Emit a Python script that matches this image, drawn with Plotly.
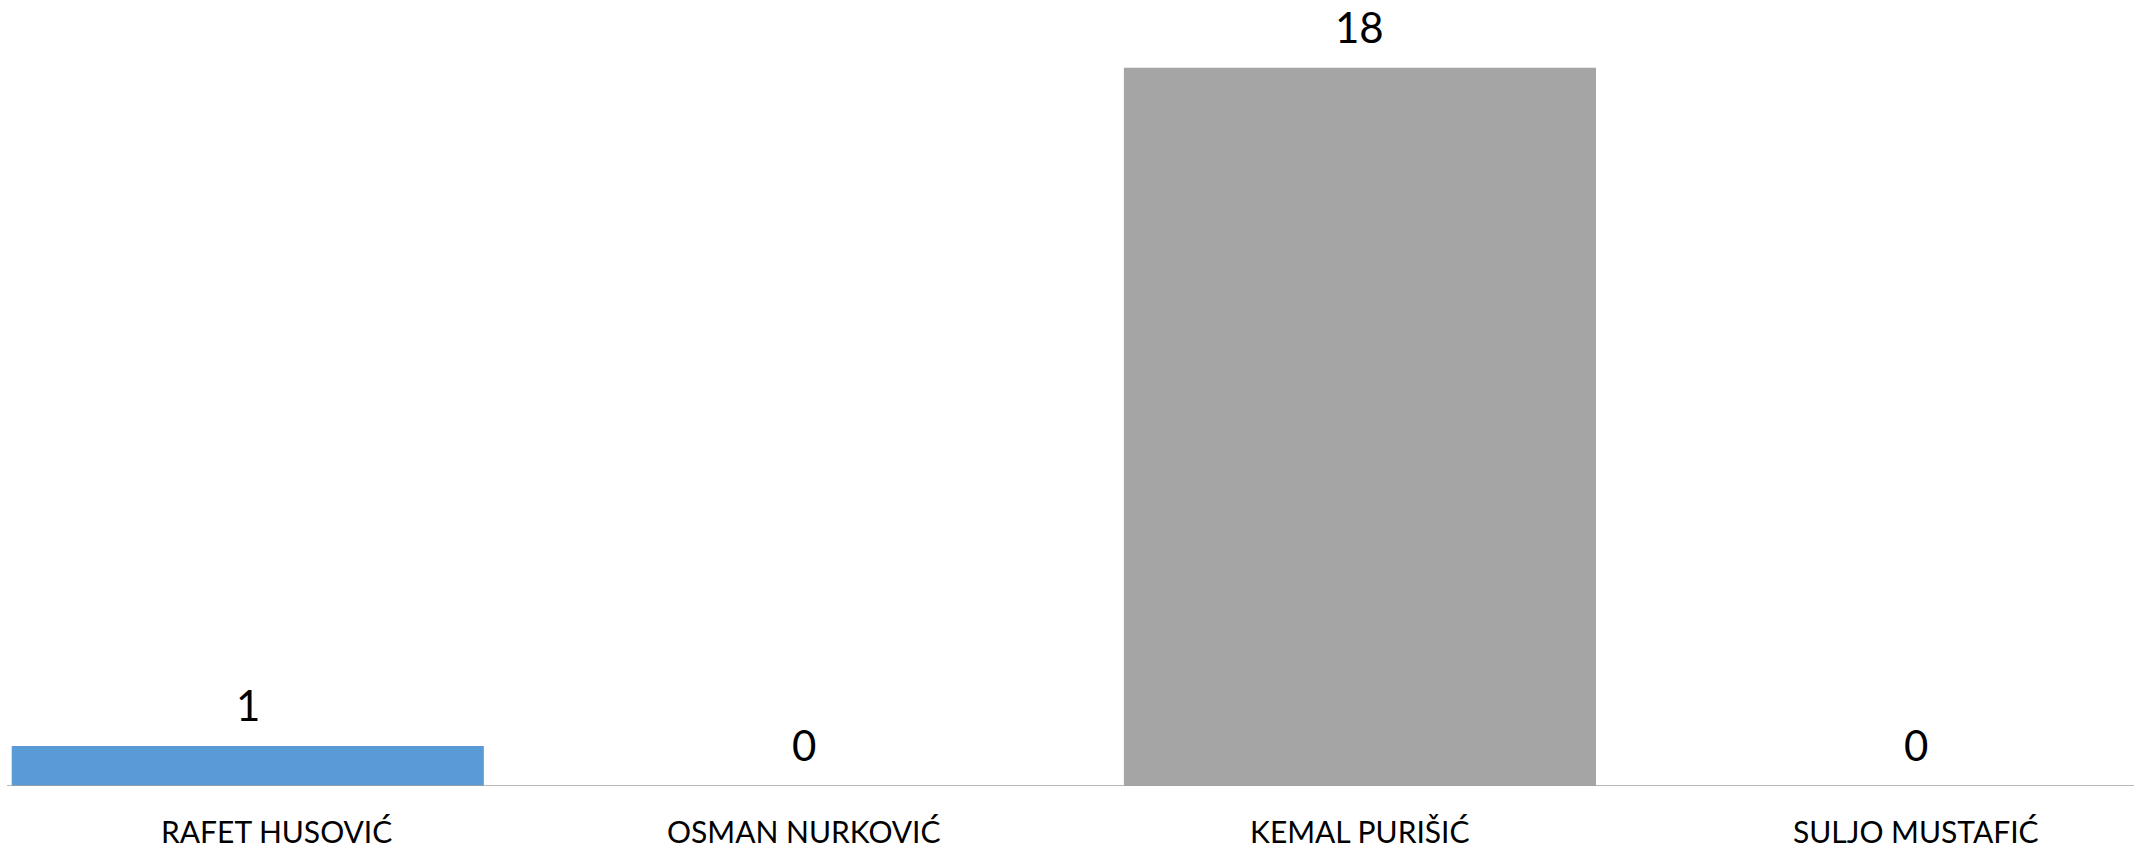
import plotly.graph_objects as go

categories = ["RAFET HUSOVIĆ", "OSMAN NURKOVIĆ", "KEMAL PURIŠIĆ", "SULJO MUSTAFIĆ"]
values = [1, 0, 18, 0]
bar_colors = ["#5B9BD5", "#ED7D31", "#A5A5A5", "#FFC000"]
label_xshift = [29, 0, 0, 0]

FONT = "Lato"

fig = go.Figure()
fig.add_trace(go.Bar(
    x=list(range(len(categories))),
    y=values,
    width=0.849,
    marker=dict(color=bar_colors, line=dict(width=0)),
    hoverinfo="skip",
))

annotations = []
for i, (cat, v) in enumerate(zip(categories, values)):
    annotations.append(dict(
        x=i, y=v, xref="x", yref="y", text=str(v), showarrow=False,
        yanchor="bottom", yshift=14,
        font=dict(family=FONT, size=42, color="#000000"),
    ))
    annotations.append(dict(
        x=i, y=0, xref="x", yref="y", text=cat, showarrow=False,
        yanchor="top", yshift=-26, xshift=label_xshift[i], borderpad=0,
        font=dict(family=FONT, size=30, color="#000000"),
    ))

fig.update_layout(
    width=2134, height=850,
    margin=dict(l=7, r=0, t=0, b=64, pad=0),
    paper_bgcolor="white", plot_bgcolor="white",
    showlegend=False,
    xaxis=dict(
        range=[-0.433, 3.392], showgrid=False, zeroline=False,
        showticklabels=False, ticks="", showline=False, fixedrange=True,
    ),
    yaxis=dict(
        range=[0, 19.7], showgrid=False, zeroline=False,
        showticklabels=False, ticks="", showline=False, fixedrange=True,
    ),
    shapes=[dict(type="line", xref="paper", yref="y", x0=0, x1=1, y0=0, y1=0,
                 line=dict(color="#A0A0A0", width=1.5), layer="above")],
    annotations=annotations,
)

fig.write_html(
    "out.html",
    config={"displayModeBar": False},
    post_script="document.body.style.margin='0';document.body.style.overflow='hidden';",
)
